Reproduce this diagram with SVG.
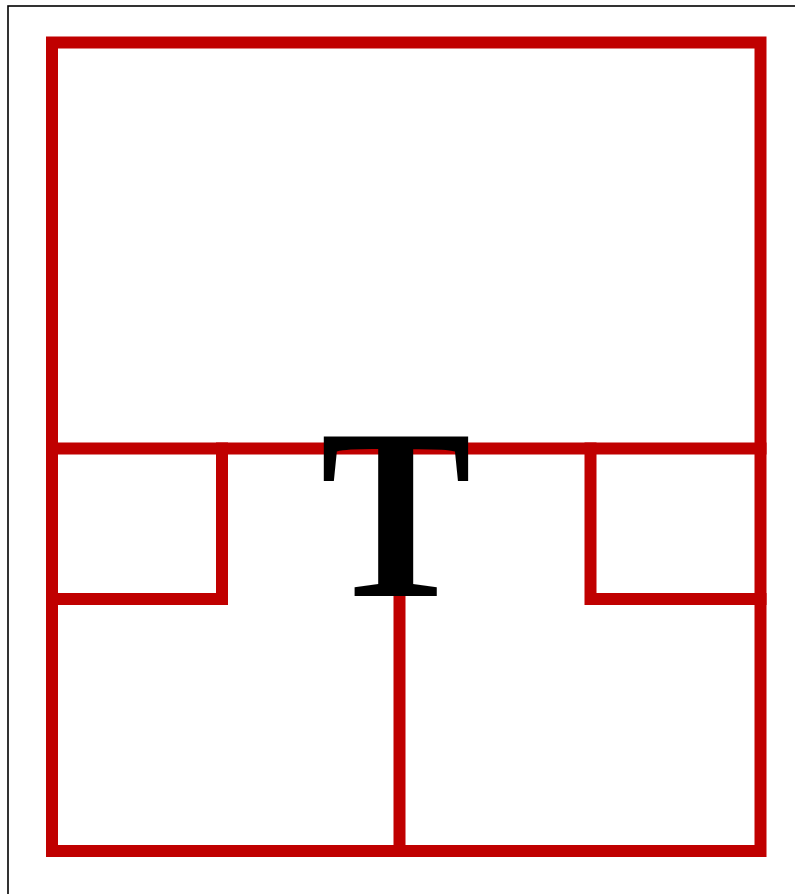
<svg xmlns="http://www.w3.org/2000/svg" width="795" height="894" viewBox="0 0 795 894">
<style>
.frame{fill:none;stroke:#000;stroke-width:1.6}
.wall{fill:none;stroke:#C00000;stroke-width:12;stroke-linecap:square;stroke-linejoin:miter}
.lbl{font-family:"Liberation Serif","Times New Roman",serif;font-weight:bold;font-size:244px;fill:#000}
</style>
<rect fill="#fff" x="0" y="0" width="795" height="894"/>
<rect class="frame" x="8" y="6" width="800" height="900"/>
<g id="plan">
<rect class="wall" x="52" y="42.5" width="708.5" height="808.5"/>
<path class="wall" d="M52 448.5H760.5"/>
<path class="wall" d="M222 448.5V599H52"/>
<path class="wall" d="M590.5 448.5V599H760.5"/>
<path class="wall" d="M399.5 599V851"/>
</g>
<g id="label">
<text class="lbl" transform="translate(396 596) scale(0.93 1)" x="0" y="0" text-anchor="middle">T</text>
</g>
</svg>
